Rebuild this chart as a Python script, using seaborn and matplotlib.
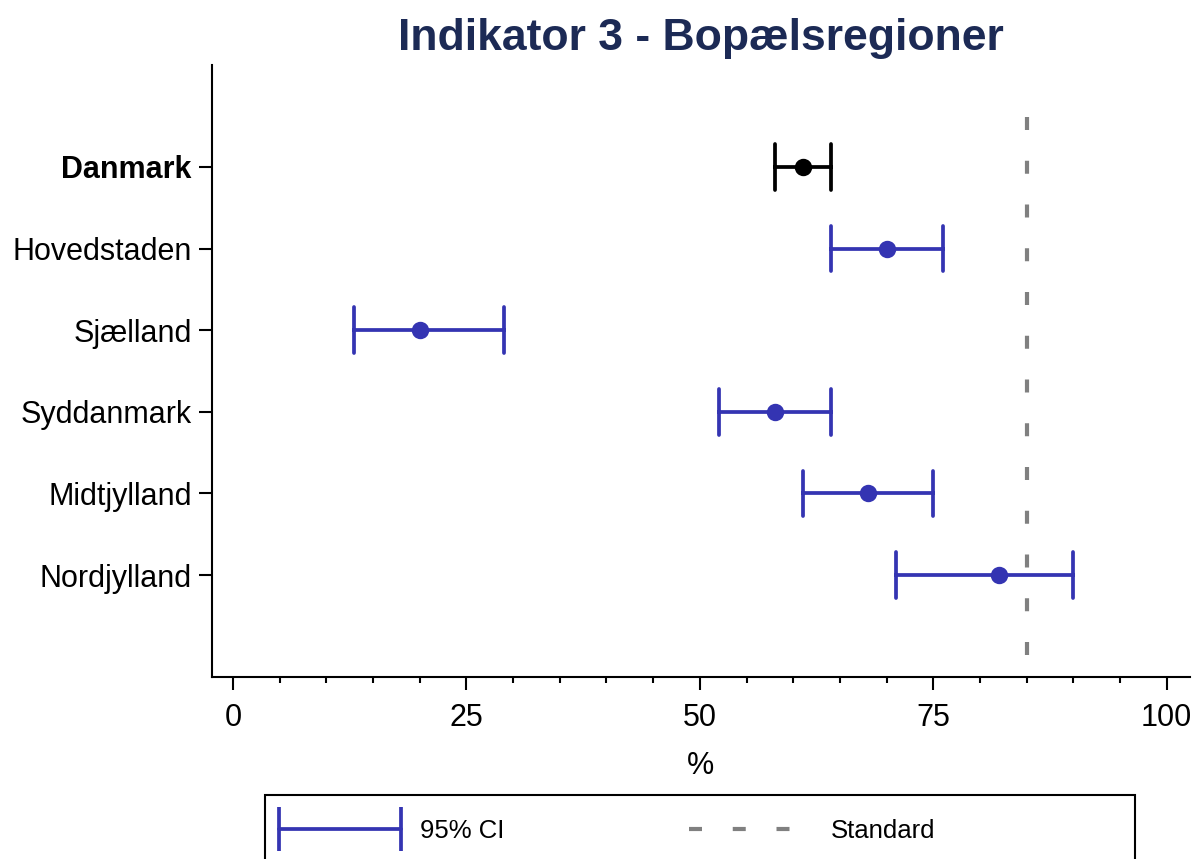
import matplotlib
matplotlib.use("Agg")
import numpy as np
import pandas as pd
import matplotlib.pyplot as plt
from matplotlib.lines import Line2D
from matplotlib.patches import Rectangle
from matplotlib.legend_handler import HandlerBase
from matplotlib.ticker import MultipleLocator, FixedLocator
import seaborn as sns

# --- data -------------------------------------------------------------
regions = ["Danmark", "Hovedstaden", "Sjælland", "Syddanmark", "Midtjylland", "Nordjylland"]
estimate = [61, 70, 20, 58, 68, 82]
ci_low = [58, 64, 13, 52, 61, 71]
ci_high = [64, 76, 29, 64, 75, 90]
standard = 85
x_ticks = [0, 25, 50, 75, 100]

title = "Indikator 3 - Bopælsregioner"
x_label = "%"
legend_labels = ["95% CI", "Standard"]

# --- style ------------------------------------------------------------
BLUE = "#3434b2"
NAVY = "#1c2a55"
GREY = "#808080"
DASH = (0, (3.12, 7.38))
ERR_LW = 2.7

sns.set_theme(style="ticks")
plt.rcParams["font.family"] = ["Liberation Sans", "DejaVu Sans"]
plt.rcParams.update({
    "text.color": "black",
    "axes.labelcolor": "black",
    "xtick.color": "black",
    "ytick.color": "black",
    "axes.edgecolor": "black",
})

# Long table: each region contributes its low, estimate and high value.
# The median recovers the estimate, min/max recover the interval.
rows = []
for r, lo, est, hi in zip(regions, ci_low, estimate, ci_high):
    group = "Danmark" if r == "Danmark" else "Region"
    for v in (lo, est, hi):
        rows.append({"region": r, "value": v, "group": group})
df = pd.DataFrame(rows)

W, H = 1197, 859
fig = plt.figure(figsize=(W / 100, H / 100), dpi=100)
ax = fig.add_axes([212 / W, 1 - 677 / H, (1190 - 212) / W, (677 - 65) / H])

sns.pointplot(
    data=df, x="value", y="region", hue="group",
    order=regions, hue_order=["Danmark", "Region"],
    palette={"Danmark": "black", "Region": BLUE},
    estimator="median", errorbar=lambda v: (v.min(), v.max()),
    orient="h", linestyle="none", capsize=0.56, markersize=10.5,
    err_kws={"linewidth": ERR_LW}, legend=False, ax=ax,
)

# Target standard
ax.axvline(standard, ymin=0.036, ymax=0.915, color=GREY, lw=3, linestyle=DASH)

# --- axes -------------------------------------------------------------
ax.set_xlim(-2.25, 102.5)
ax.set_ylim(6.25, -1.25)
ax.xaxis.set_major_locator(FixedLocator(x_ticks))
ax.xaxis.set_minor_locator(MultipleLocator(5))
ax.tick_params(axis="both", which="major", length=9.5, width=1.5, labelsize=22)
ax.tick_params(axis="x", which="minor", length=4.5, width=1.5)
ax.tick_params(axis="y", pad=5)
ax.tick_params(axis="x", pad=9)
for sp in ("top", "right"):
    ax.spines[sp].set_visible(False)
for sp in ("left", "bottom"):
    ax.spines[sp].set_linewidth(1.5)
    ax.spines[sp].set_color("black")

ax.set_ylabel("")
ax.set_xlabel(x_label, fontsize=22, labelpad=13)
ax.get_yticklabels()[0].set_fontweight("bold")
ax.set_title(title, fontsize=32, fontweight="bold", color=NAVY, pad=10.5)


# --- legend -----------------------------------------------------------
class CIHandler(HandlerBase):
    """Horizontal bar with vertical caps at both ends."""

    def create_artists(self, legend, orig_handle, xdescent, ydescent,
                       width, height, fontsize, trans):
        y = height / 2 - ydescent
        x0, x1 = -xdescent, width - xdescent
        bar = Line2D([x0, x1], [y, y], color=BLUE, lw=ERR_LW)
        caps = Line2D([x0, x1], [y, y], color=BLUE, ls="none",
                      marker="|", markersize=32, markeredgewidth=ERR_LW)
        bar.set_transform(trans)
        caps.set_transform(trans)
        return [bar, caps]


ci_handle = Line2D([], [], color=BLUE)
std_handle = Line2D([], [], color=GREY, lw=3, linestyle=DASH)

fig.patches.append(Rectangle((265 / W, -0.1), 870 / W, 0.1 + (1 - 795 / H),
                             transform=fig.transFigure, fill=False,
                             edgecolor="black", linewidth=1.5))
fig.legend(
    [ci_handle, std_handle], legend_labels,
    handler_map={ci_handle: CIHandler()},
    loc="center left", bbox_to_anchor=(279 / W, 1 - 831 / H),
    ncol=2, frameon=False, borderpad=0, borderaxespad=0,
    fontsize=18.5, handlelength=4.75, handletextpad=0.74, columnspacing=7.2,
)

fig.savefig("out.png", dpi=100)
